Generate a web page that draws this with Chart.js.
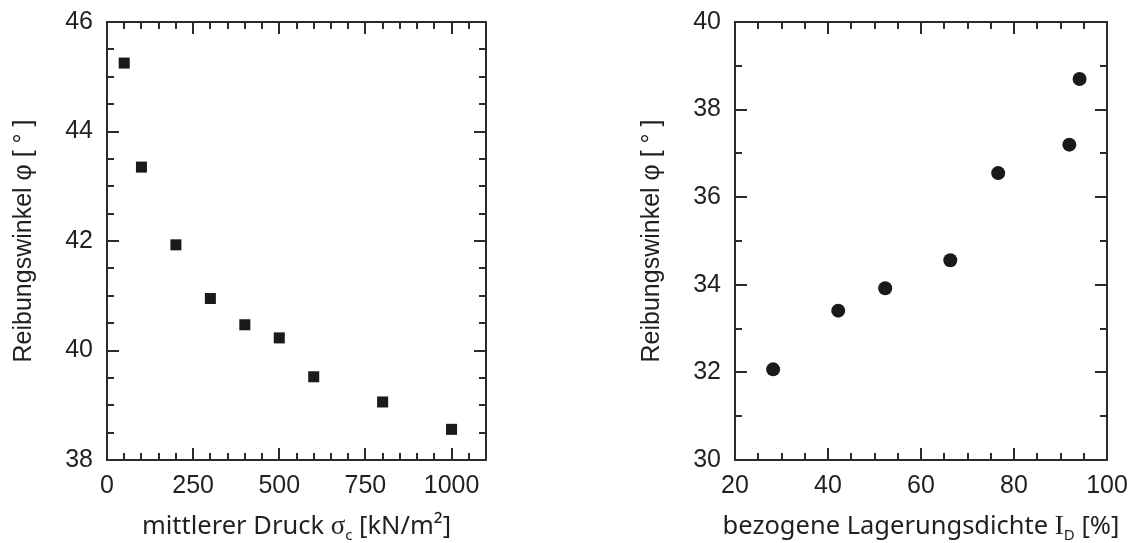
<!DOCTYPE html>
<html lang="de">
<head>
<meta charset="UTF-8">
<title>Reibungswinkel</title>
<script src="https://cdn.jsdelivr.net/npm/chart.js"></script>
<style>
  body { margin: 0; background: #fff; }
  #wrap { position: relative; width: 1140px; height: 543px; }
  canvas { position: absolute; top: 0; }
</style>
</head>
<body>
<div id="wrap">
  <canvas id="druckChart" width="560" height="543" style="left:0"></canvas>
  <canvas id="dichteChart" width="570" height="543" style="left:570px"></canvas>
</div>
<script>
// Reibungswinkel über mittlerem Druck
const druck = [50, 100, 200, 300, 400, 500, 600, 800, 1000];
const winkelDruck = [45.25, 43.35, 41.93, 40.95, 40.47, 40.23, 39.52, 39.06, 38.56];
const druckTicks = [0, 250, 500, 750, 1000];
const winkelDruckTicks = [38, 40, 42, 44, 46];

// Reibungswinkel über bezogener Lagerungsdichte
const dichte = [28.2, 42.2, 52.3, 66.3, 76.6, 91.9, 94.1];
const winkelDichte = [32.07, 33.41, 33.92, 34.56, 36.55, 37.2, 38.7];
const dichteTicks = [20, 40, 60, 80, 100];
const winkelDichteTicks = [30, 32, 34, 36, 38, 40];

const INK = '#231f20';
const tickFont = { family: '"Liberation Sans", Arial, sans-serif', size: 25 };

function isMajor(v, step) {
    const r = Math.abs(v / step - Math.round(v / step));
    return r < 1e-6;
}

// Rahmen mit nach innen zeigenden Teilstrichen auf allen vier Seiten + x-Achsentitel mit Index
const rahmen = {
    id: 'rahmen',
    afterDraw(chart, args, opts) {
        const { ctx, chartArea: a, scales: { x, y } } = chart;
        ctx.save();
        ctx.strokeStyle = '#2b2b2b';
        ctx.lineWidth = 2;
        ctx.strokeRect(a.left, a.top, a.right - a.left, a.bottom - a.top);
        ctx.beginPath();
        for (let v = x.min; v <= x.max + 1e-9; v += opts.xMinor) {
            const px = Math.round(x.getPixelForValue(v));
            const len = isMajor(v, opts.xMajor) ? 12 : 7;
            ctx.moveTo(px, a.bottom); ctx.lineTo(px, a.bottom - len);
            ctx.moveTo(px, a.top); ctx.lineTo(px, a.top + len);
        }
        for (let v = y.min; v <= y.max + 1e-9; v += opts.yMinor) {
            const py = Math.round(y.getPixelForValue(v));
            const len = isMajor(v, opts.yMajor) ? 12 : 7;
            ctx.moveTo(a.left, py); ctx.lineTo(a.left + len, py);
            ctx.moveTo(a.right, py); ctx.lineTo(a.right - len, py);
        }
        ctx.stroke();

        // Achsentitel stückweise zeichnen (Index tiefgestellt)
        let total = 0;
        opts.title.forEach(p => {
            ctx.font = p.font;
            p.w = ctx.measureText(p.text).width;
            total += p.w;
        });
        let tx = (a.left + a.right) / 2 - total / 2;
        ctx.fillStyle = INK;
        ctx.textBaseline = 'alphabetic';
        opts.title.forEach(p => {
            ctx.font = p.font;
            ctx.fillText(p.text, tx, opts.titleY + (p.dy || 0));
            tx += p.w;
        });
        ctx.restore();
    }
};

function makeChart(id, xs, ys, xTicks, yTicks, cfg) {
    return new Chart(document.getElementById(id), {
        type: 'scatter',
        data: {
            datasets: [{
                data: xs.map((v, i) => ({ x: v, y: ys[i] })),
                pointStyle: cfg.pointStyle,
                pointRadius: cfg.radius,
                backgroundColor: '#1a1a1a',
                borderColor: '#1a1a1a',
                borderWidth: 0
            }]
        },
        options: {
            responsive: false,
            animation: false,
            layout: { padding: cfg.padding },
            plugins: {
                legend: { display: false },
                tooltip: { enabled: false },
                rahmen: cfg.rahmen
            },
            scales: {
                x: {
                    type: 'linear',
                    min: cfg.xMin, max: cfg.xMax,
                    afterBuildTicks: s => { s.ticks = xTicks.map(v => ({ value: v })); },
                    afterFit: s => {
                        s.height = cfg.xHeight;
                        s.paddingLeft = 0; s.paddingRight = 0;
                    },
                    grid: { display: false, drawTicks: false },
                    border: { display: false },
                    ticks: {
                        font: tickFont, color: INK, padding: 11, autoSkip: false, maxRotation: 0,
                        callback: v => String(v)
                    }
                },
                y: {
                    type: 'linear',
                    min: cfg.yMin, max: cfg.yMax,
                    afterBuildTicks: s => { s.ticks = yTicks.map(v => ({ value: v })); },
                    afterFit: s => {
                        s.width = cfg.yWidth;
                        s.paddingTop = 0; s.paddingBottom = 0;
                    },
                    grid: { display: false, drawTicks: false },
                    border: { display: false },
                    ticks: { font: tickFont, color: INK, padding: 14, autoSkip: false, callback: v => String(v) },
                    title: {
                        display: true,
                        text: 'Reibungswinkel φ [ ° ]',
                        color: INK,
                        font: { family: '"Liberation Sans", Arial, sans-serif', size: 25 },
                        padding: { top: cfg.yTitlePad, bottom: 0 }
                    }
                }
            }
        },
        plugins: [rahmen]
    });
}

const titleSans = '25.5px "Noto Sans", "Open Sans", sans-serif';
const titleSerif = '27px "Liberation Serif", serif';
const titleSub = '15px "Noto Sans", "Open Sans", sans-serif';

makeChart('druckChart', druck, winkelDruck, druckTicks, winkelDruckTicks, {
    pointStyle: 'rect', radius: 7.8,
    padding: { left: 0, top: 22, right: 74, bottom: 0 },
    xMin: 0, xMax: 1100, yMin: 38, yMax: 46,
    xHeight: 83, yWidth: 107, yTitlePad: 9,
    rahmen: {
        xMinor: 50, xMajor: 250, yMinor: 0.5, yMajor: 2, titleY: 534,
        title: [
            { text: 'mittlerer Druck ', font: titleSans },
            { text: 'σ', font: titleSerif },
            { text: 'c', font: titleSub, dy: 6 },
            { text: ' [kN/m²]', font: titleSans }
        ]
    }
});

makeChart('dichteChart', dichte, winkelDichte, dichteTicks, winkelDichteTicks, {
    pointStyle: 'circle', radius: 7,
    padding: { left: 0, top: 22, right: 33, bottom: 0 },
    xMin: 20, xMax: 100, yMin: 30, yMax: 40,
    xHeight: 83, yWidth: 165, yTitlePad: 67,
    rahmen: {
        xMinor: 5, xMajor: 20, yMinor: 1, yMajor: 2, titleY: 534,
        title: [
            { text: 'bezogene Lagerungsdichte ', font: titleSans },
            { text: 'I', font: titleSerif },
            { text: 'D', font: titleSub, dy: 6 },
            { text: ' [%]', font: titleSans }
        ]
    }
});
</script>
</body>
</html>
